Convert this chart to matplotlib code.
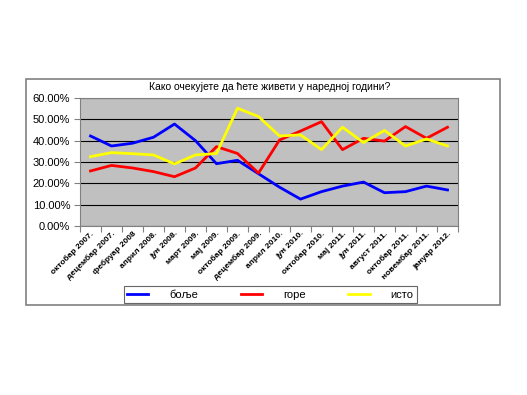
import numpy as np
import matplotlib
matplotlib.use('Agg')
import matplotlib.pyplot as plt
from matplotlib.patches import Rectangle
from matplotlib.ticker import FixedLocator

plt.rcParams['font.family'] = ['Liberation Sans', 'DejaVu Sans']

# Survey periods
periods = ['октобар 2007.', 'децембар 2007.', 'фебруар 2008', 'април 2008.',
           'јун 2008.', 'март 2009.', 'мај 2009.', 'октобар 2009.',
           'децембар 2009.', 'април 2010.', 'јун 2010.', 'октобар 2010.',
           'мај 2011.', 'јун 2011.', 'август 2011.', 'октобар 2011.',
           'новембар 2011.', 'јануар 2012.']

# Shares in percent
bolje = [42.2, 37.5, 38.8, 41.6, 47.8, 40.0, 29.2, 30.8, 24.5, 18.2,
         12.6, 16.1, 18.7, 20.6, 15.6, 16.1, 18.7, 16.9]
gore = [25.8, 28.4, 27.2, 25.5, 23.1, 27.2, 37.2, 34.0, 24.8, 40.3,
        44.5, 48.9, 35.8, 41.1, 39.8, 46.6, 41.1, 46.3]
isto = [32.5, 34.4, 33.9, 33.3, 29.1, 33.3, 34.0, 55.2, 51.3, 42.2,
        42.7, 35.8, 46.3, 39.1, 44.8, 37.5, 40.8, 37.5]

W, H = 527, 395
fig = plt.figure(figsize=(W / 100, H / 100), dpi=100)

# chart area frame
fig.patches.append(Rectangle((26 / W, 1 - 305 / H), 474 / W, 226.5 / H,
                             transform=fig.transFigure, fill=False,
                             edgecolor='#808080', linewidth=1.2))

ax = fig.add_axes([80 / W, 1 - 226 / H, 378 / W, 128 / H])
ax.set_facecolor('#C0C0C0')

x = np.arange(len(periods))
ax.plot(x, bolje, color='#0000FF', lw=2.0, label='боље')
ax.plot(x, gore, color='#FF0000', lw=2.0, label='горе')
ax.plot(x, isto, color='#FFFF00', lw=2.0, label='исто')

ax.set_xlim(-0.5, len(periods) - 0.5)
ax.set_ylim(0, 60)
ax.set_yticks(np.arange(0, 61, 10))
ax.set_yticklabels(['%.2f%%' % v for v in np.arange(0, 61, 10)], fontsize=8)
ax.yaxis.grid(True, color='#000000', lw=0.8)
ax.set_axisbelow(True)

# ticks between categories, labels at centres
ax.xaxis.set_major_locator(FixedLocator(np.arange(-0.5, len(periods), 1)))
ax.set_xticklabels([])
ax.set_xticks(x, minor=True)
ax.set_xticklabels(periods, minor=True, rotation=45, ha='right',
                   rotation_mode='anchor', fontsize=6, fontweight='bold')
ax.tick_params(axis='x', which='minor', length=0, pad=3)
ax.tick_params(axis='x', which='major', length=4, color='#808080')
ax.tick_params(axis='y', length=4, color='#808080', pad=3)

for s in ax.spines.values():
    s.set_color('#808080')

fig.text(270 / W, 1 - 87 / H, 'Како очекујете да ћете живети у наредној години?',
         ha='center', va='center', fontsize=7.5)

leg = fig.legend(loc='lower left', ncol=3, mode='expand',
                 bbox_to_anchor=(124 / W, 1 - 303 / H, 293 / W, 19 / H),
                 fontsize=8, frameon=True, fancybox=False, handlelength=1.9,
                 borderpad=0.3, borderaxespad=0, handletextpad=1.9)
leg.get_frame().set_edgecolor('#404040')
leg.get_frame().set_linewidth(0.8)

fig.savefig('out.png', dpi=100)
